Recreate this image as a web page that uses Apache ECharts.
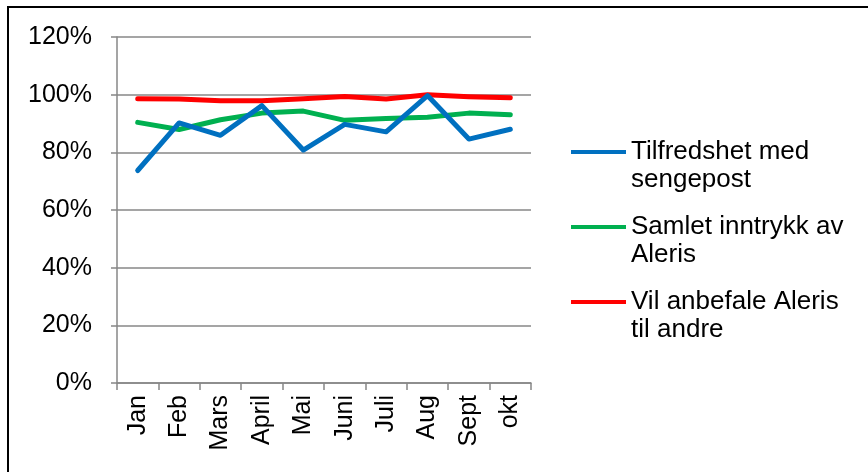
<!DOCTYPE html>
<html>
<head>
<meta charset="utf-8">
<style>
  html, body { margin: 0; padding: 0; background: #fff; }
  #chart { width: 868px; height: 472px; }
</style>
<script src="https://cdn.jsdelivr.net/npm/echarts@6/dist/echarts.min.js"></script>
</head>
<body>
<div id="chart"></div>
<script>
// måneder
const categories = ["Jan", "Feb", "Mars", "April", "Mai", "Juni", "Juli", "Aug", "Sept", "okt"];

// verdier i prosent
const tilfredshet = [73.7, 90.2, 85.9, 96.2, 80.8, 89.7, 87.1, 99.7, 84.6, 88.0];
const samletInntrykk = [90.4, 87.9, 91.3, 93.6, 94.3, 91.1, 91.7, 92.2, 93.6, 93.0];
const vilAnbefale = [98.6, 98.5, 97.9, 97.9, 98.6, 99.4, 98.5, 100.0, 99.3, 98.9];

const seriesNames = ["Tilfredshet med sengepost", "Samlet inntrykk av Aleris", "Vil anbefale Aleris til andre"];
// tom første linje så streken står ved første tekstlinje
const wrappedNames = {
  "Tilfredshet med sengepost": " \nTilfredshet med\nsengepost",
  "Samlet inntrykk av Aleris": " \nSamlet inntrykk av\nAleris",
  "Vil anbefale Aleris til andre": " \nVil anbefale Aleris\ntil andre",
};
const colors = ["#0070C0", "#00B050", "#FF0000"];
const seriesData = [tilfredshet, samletInntrykk, vilAnbefale];

const yTicks = [0, 20, 40, 60, 80, 100, 120];

const fontFamily = "'Liberation Sans', Arial, sans-serif";
const axisColor = "#878787";

const chart = echarts.init(document.getElementById("chart"));

// en legende per serie, for å styre plassering
const legendTops = [110, 185, 260];
const legends = seriesNames.map((name, i) => ({
  data: [name],
  left: 571,
  top: legendTops[i],
  padding: 0,
  itemWidth: 55,
  itemHeight: 4,
  itemGap: 0,
  icon: "rect",
  selectedMode: false,
  formatter: (n) => wrappedNames[n],
  textStyle: {
    fontFamily: fontFamily,
    fontSize: 26,
    color: "#000",
    lineHeight: 28,
  },
}));

const option = {
  backgroundColor: "#fff",
  animation: false,
  textStyle: { fontFamily: fontFamily },
  graphic: [
    {
      type: "polyline",
      shape: { points: [[8, 472], [8, 7], [868, 7]] },
      style: { stroke: "#000", lineWidth: 2, fill: null },
      silent: true,
    },
  ],
  legend: legends,
  grid: {
    left: 117,
    right: 337,
    top: 37,
    bottom: 89,
  },
  xAxis: {
    type: "category",
    data: categories,
    boundaryGap: true,
    axisLine: { show: true, lineStyle: { color: axisColor, width: 1.5 } },
    axisTick: { show: true, alignWithLabel: false, length: 7, lineStyle: { color: axisColor, width: 1.5 } },
    axisLabel: {
      rotate: 90,
      interval: 0,
      margin: 12,
      fontSize: 25,
      color: "#000",
      fontFamily: fontFamily,
    },
    splitLine: { show: false },
  },
  yAxis: {
    type: "value",
    min: yTicks[0],
    max: yTicks[yTicks.length - 1],
    interval: 20,
    axisLine: { show: true, lineStyle: { color: axisColor, width: 1.5 } },
    axisTick: { show: true, length: 6, lineStyle: { color: axisColor, width: 1.5 } },
    axisLabel: {
      formatter: "{value}%",
      margin: 25,
      fontSize: 25,
      color: "#000",
      fontFamily: fontFamily,
    },
    splitLine: { show: true, lineStyle: { color: axisColor, width: 1.5 } },
  },
  series: seriesNames.map((name, i) => ({
    name: name,
    type: "line",
    data: seriesData[i],
    symbol: "none",
    smooth: false,
    color: colors[i],
    lineStyle: { color: colors[i], width: 5, cap: "round", join: "round" },
    z: 3 - i,
  })),
};

chart.setOption(option);
</script>
</body>
</html>
